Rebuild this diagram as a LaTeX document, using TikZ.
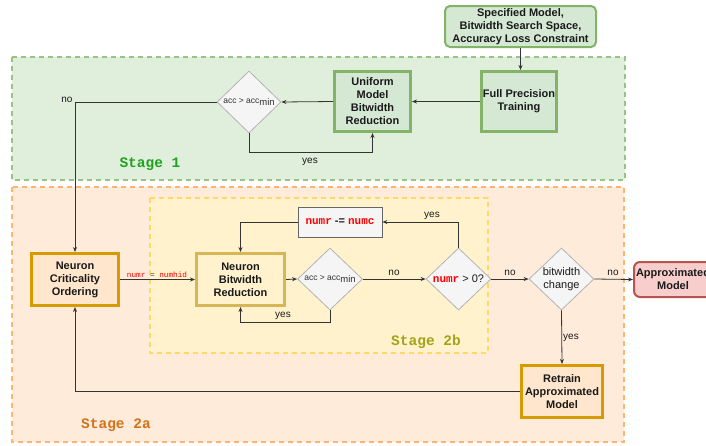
\documentclass[tikz,border=0pt]{standalone}
\usepackage{fontspec}
\setmainfont{Liberation Sans}
\setmonofont{Liberation Mono}
\usetikzlibrary{shapes.geometric,arrows.meta}
\definecolor{gfill}{HTML}{D5E8D4}
\definecolor{gedge}{HTML}{82B366}
\definecolor{greg}{HTML}{E0EEDC}
\definecolor{ofill}{HTML}{FFE6CC}
\definecolor{oedge}{HTML}{D79B00}
\definecolor{oreg}{HTML}{FFEBDA}
\definecolor{oregedge}{HTML}{FFB570}
\definecolor{yfill}{HTML}{FFF2CC}
\definecolor{yedge}{HTML}{D6B656}
\definecolor{yregedge}{HTML}{FFD966}
\definecolor{dfill}{HTML}{F5F5F5}
\definecolor{dedge}{HTML}{B3B3B3}
\definecolor{bedge}{HTML}{666666}
\definecolor{rfill}{HTML}{F8CECC}
\definecolor{redge}{HTML}{B85450}
\definecolor{lnk}{HTML}{333333}
\definecolor{txt}{HTML}{1A1A1A}
\definecolor{stgone}{HTML}{1FA31F}
\definecolor{stgtwoa}{HTML}{D0731A}
\definecolor{stgtwob}{HTML}{A3A31A}
\definecolor{codered}{HTML}{FF0000}
\begin{document}
\begin{tikzpicture}[x=1pt,y=-1pt,
  box/.style={draw, line width=3pt, align=center, inner sep=0pt, text=txt,
    font=\fontsize{11}{13}\selectfont\bfseries},
  dia/.style={diamond, draw=dedge, fill=dfill, line width=0.8pt,
    minimum width=65pt, minimum height=62pt, inner sep=0pt},
  diatext/.style={align=center, text=txt, inner sep=0pt, font=\fontsize{11}{13}\selectfont},
  conn/.style={draw=lnk, line width=0.8pt, -{Stealth[length=5pt,width=4pt]}},
  plain/.style={draw=lnk, line width=0.8pt},
  lab/.style={font=\fontsize{10}{12}\selectfont, text=txt, inner sep=0pt},
  region/.style={line width=1.3pt, dash pattern=on 5pt off 4pt},
  stagelab/.style={font=\fontsize{14.5}{16}\selectfont\ttfamily\bfseries, inner sep=0pt}
]
\clip (0,0) rectangle (706,445);
\fill[white] (0,0) rectangle (706,445);

% regions
\draw[region, draw=gedge!80, fill=greg] (12,57) rectangle (625,180);
\draw[region, draw=oregedge, fill=oreg] (12,187) rectangle (624,442);
\draw[region, draw=yregedge, fill=yfill] (150,198) rectangle (488,353);

\node[stagelab, text=stgone] (s1) at (150,164) {Stage 1};
\node[stagelab, text=stgtwoa] (s2a) at (116,425) {Stage 2a};
\node[stagelab, text=stgtwob] (s2b) at (426,342) {Stage 2b};

% nodes
\node[box, line width=2pt, rounded corners=5pt, draw=gedge, fill=gfill,
  minimum width=151pt, minimum height=41pt,
  font=\fontsize{11}{13}\selectfont\bfseries] (inp) at (520.5,26.5)
  {Specified Model,\\Bitwidth Search Space,\\Accuracy Loss Constraint};
\node[box, draw=gedge, fill=gfill, minimum width=75pt, minimum height=60pt] (fpt) at (519,101.5)
  {Full Precision\\Training};
\node[box, draw=gedge, fill=gfill, minimum width=76pt, minimum height=60pt] (umbr) at (372.5,101.5)
  {Uniform\\Model\\Bitwidth\\Reduction};
\node[dia, minimum width=64pt] (d1) at (249,102) {};
\node[diatext, font=\fontsize{8.5}{10}\selectfont, text=lnk] at (d1) {acc > acc\raisebox{-2.5pt}{\fontsize{9.5}{10}\selectfont min}};

\node[box, draw=oedge, fill=ofill, minimum width=87pt, minimum height=52pt] (nco) at (75,279.5)
  {Neuron\\Criticality\\Ordering};
\node[box, draw=yedge, fill=yfill, minimum width=88pt, minimum height=52pt] (nbr) at (240.5,279.5)
  {Neuron\\Bitwidth\\Reduction};
\node[dia] (d2) at (330,279) {};
\node[diatext, font=\fontsize{8.5}{10}\selectfont, text=lnk] at (d2) {acc > acc\raisebox{-2.5pt}{\fontsize{9.5}{10}\selectfont min}};
\node[dia] (d3) at (458.5,279) {};
\node[diatext] at (d3) {\textcolor{codered}{\ttfamily\bfseries numr} > 0?};
\node[draw=bedge, fill=dfill, line width=0.8pt, minimum width=84pt, minimum height=30pt,
  inner sep=0pt, text=txt, font=\fontsize{11}{13}\selectfont\bfseries] (dec) at (340,222)
  {\textcolor{codered}{\ttfamily numr} -= \textcolor{codered}{\ttfamily numc}};
\node[dia] (d4) at (561.5,279) {};
\node[diatext] at (d4) {bitwidth\\change};
\node[box, line width=2pt, rounded corners=6pt, draw=redge, fill=rfill,
  minimum width=78pt, minimum height=35pt] (am) at (673,279.5) {Approximated\\Model};
\node[box, draw=oedge, fill=ofill, minimum width=81pt, minimum height=52pt] (rt) at (562,391.5)
  {Retrain\\Approximated\\Model};

% connectors
\draw[conn] (inp.south) -- (inp.south |- fpt.north);
\draw[conn] (fpt.west) -- (umbr.east);
\draw[conn] (umbr.west) -- (d1.east);
\draw[conn] (d1.west) -| (nco.north);
\node[lab] (lno1) at (67,100) {no};
\draw[conn] (d1.south) -- ++(0,19) -| (umbr.south);
\node[lab] (lyes1) at (310,162) {yes};

\draw[conn] (nco.east) -- (nbr.west);
\node[inner sep=0pt, font=\fontsize{7.7}{9}\selectfont\ttfamily] (linit) at (157,274.5)
  {\textcolor{codered}{numr} \textcolor{lnk}{=} \textcolor{codered}{numhid}};
\draw[conn] (nbr.east) -- (d2.west);
\draw[conn] (d2.south) -- ++(0,12) -| (nbr.south);
\node[lab] (lyes2) at (283,316) {yes};
\draw[conn] (d2.east) -- (d3.west);
\node[lab] (lno2) at (394,273) {no};
\draw[conn] (d3.north) |- (dec.east);
\node[lab] (lyes3) at (432,216) {yes};
\draw[conn] (dec.west) -| (nbr.north);
\draw[conn] (d3.east) -- (d4.west);
\node[lab] (lno3) at (510,273) {no};
\draw[conn] (d4.east) -- (am.west);
\node[lab] (lno4) at (613,273) {no};
\draw[conn] (d4.south) -- (rt.north);
\node[lab] (lyes4) at (571,338) {yes};
\draw[conn] (rt.west) -| (nco.south);
\end{tikzpicture}
\end{document}
